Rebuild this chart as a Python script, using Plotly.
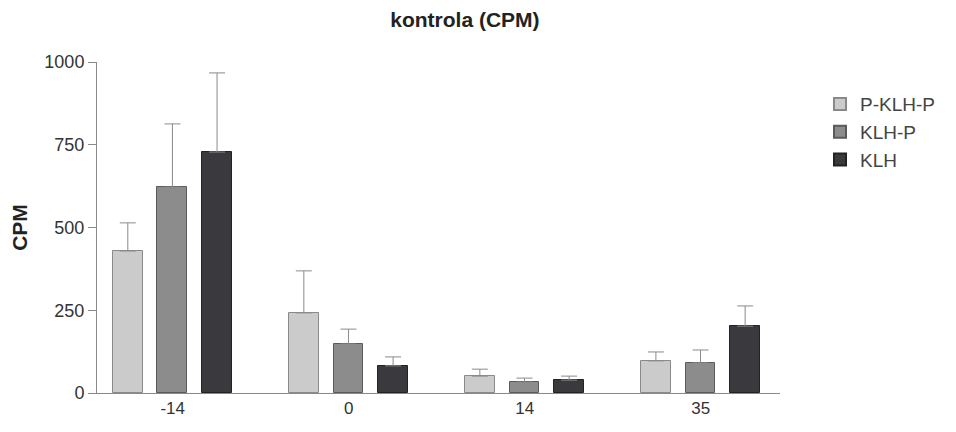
import plotly.graph_objects as go

categories = ["-14", "0", "14", "35"]
series_names = ["P-KLH-P", "KLH-P", "KLH"]
p_klh_p = [429, 242, 51, 97]
p_klh_p_err = [85, 127, 21, 27]
klh_p = [622, 148, 33, 91]
klh_p_err = [191, 45, 12, 39]
klh = [728, 82, 39, 202]
klh_err = [239, 27, 12, 61]

values = [p_klh_p, klh_p, klh]
errors = [p_klh_p_err, klh_p_err, klh_err]
colors = ["#cbcbcb", "#8c8c8c", "#3a3a3e"]
lines = ["#8a8a8a", "#5a5a5a", "#222222"]

W, H = 948, 424

fig = go.Figure()
for i, name in enumerate(series_names):
    fig.add_trace(go.Bar(
        x=categories, y=values[i], name=name,
        width=0.17, offset=-0.34 + i * 0.2535,
        marker=dict(color=colors[i], line=dict(color=lines[i], width=1)),
        error_y=dict(type="data", symmetric=False, array=errors[i],
                     arrayminus=[0] * len(categories),
                     color="#8a8a8a", thickness=1, width=8),
    ))

fig.update_layout(
    width=W, height=H,
    margin=dict(l=89, r=176, t=54, b=39, autoexpand=False),
    paper_bgcolor="white", plot_bgcolor="white",
    font=dict(family="Liberation Sans, Arial, sans-serif", color="#333333", size=17),
    title=dict(text="<b>kontrola (CPM)</b>", x=0.482, xanchor="center",
               y=1, yanchor="top", pad=dict(t=4, b=0, l=0, r=0),
               font=dict(size=21, color="#222222")),
    showlegend=True,
    legend=dict(x=1.0586, y=0.93, xanchor="left", yanchor="top",
                font=dict(size=19, color="#444444"), tracegroupgap=0,
                itemsizing="constant", bgcolor="rgba(0,0,0,0)"),
    bargap=0,
)
fig.update_xaxes(type="category", range=[-0.43, 3.45], showline=True,
                 linecolor="#8a8a8a", linewidth=1, ticks="", showgrid=False,
                 tickfont=dict(size=17, color="#333333"))
fig.update_yaxes(range=[0, 1000], tickvals=[0, 250, 500, 750, 1000],
                 showline=True, linecolor="#8a8a8a", linewidth=1,
                 ticks="outside", ticklen=8, tickcolor="#8a8a8a",
                 showgrid=False, zeroline=False,
                 tickfont=dict(size=18, color="#333333"),
                 title=dict(text="<b>CPM</b>", font=dict(size=21, color="#222222"),
                            standoff=12))

fig.write_html("out.html")
